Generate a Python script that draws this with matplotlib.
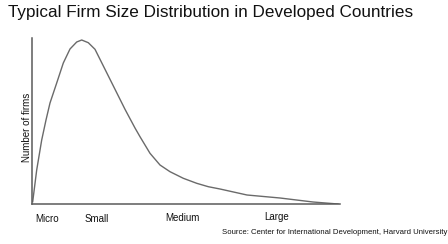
import matplotlib
matplotlib.use("Agg")
import matplotlib.pyplot as plt

plt.rcParams['font.family'] = ['Liberation Sans', 'DejaVu Sans']

# firm size (arbitrary units) and number of firms (arbitrary units)
firm_size = [0.7, 4.7, 9.7, 14, 18, 24.7, 31.3, 38, 44.7, 49.7, 56.3, 63, 73, 83, 93,
             103, 108, 118, 128, 138, 151.3, 164.7, 176.3, 188, 215, 248, 281, 306]
num_firms = [2.3, 34, 64, 84, 101, 121, 141, 155, 162, 164, 161.3, 154.7, 134.7, 114.7, 94.7,
             76, 67.3, 50.7, 39, 32.3, 25.7, 20.7, 17.3, 15, 9, 6, 2, 0]

size_labels = ["Micro", "Small", "Medium", "Large"]
size_label_pos = [15, 65, 150, 245]
size_label_y = [219, 219, 218, 217]  # pixel rows

title = "Typical Firm Size Distribution in Developed Countries"
ylabel = "Number of firms"
source = "Source: Center for International Development, Harvard University"

W, H = 448, 244
fig = plt.figure(figsize=(W / 100, H / 100), dpi=100)
ax = fig.add_axes([32 / W, (H - 204) / H, 308 / W, 166 / H])
ax.plot(firm_size, num_firms, color="#6a6a6a", lw=1.0, solid_joinstyle="round")
ax.set_xlim(0, 308)
ax.set_ylim(0, 166)
for s in ["top", "right"]:
    ax.spines[s].set_visible(False)
for s in ["left", "bottom"]:
    ax.spines[s].set_color("#5a5a5a")
    ax.spines[s].set_linewidth(1.1)
ax.set_xticks([])
ax.set_yticks([])

for lab, xp, yp in zip(size_labels, size_label_pos, size_label_y):
    fx = (32 + xp) / W
    fig.text(fx, 1 - yp / H, lab, ha="center", va="center", fontsize=7, color="#111111")

fig.text(27 / W, 1 - 127 / H, ylabel, rotation=90, ha="center", va="center",
         fontsize=7, color="#111111")
fig.text(8 / W, 1 - 13 / H, title, ha="left", va="center", fontsize=12.35, color="#111111")
fig.text(447 / W, 1 - 233 / H, source, ha="right", va="center", fontsize=5.6, color="#111111")

fig.savefig("out.png", dpi=100)
